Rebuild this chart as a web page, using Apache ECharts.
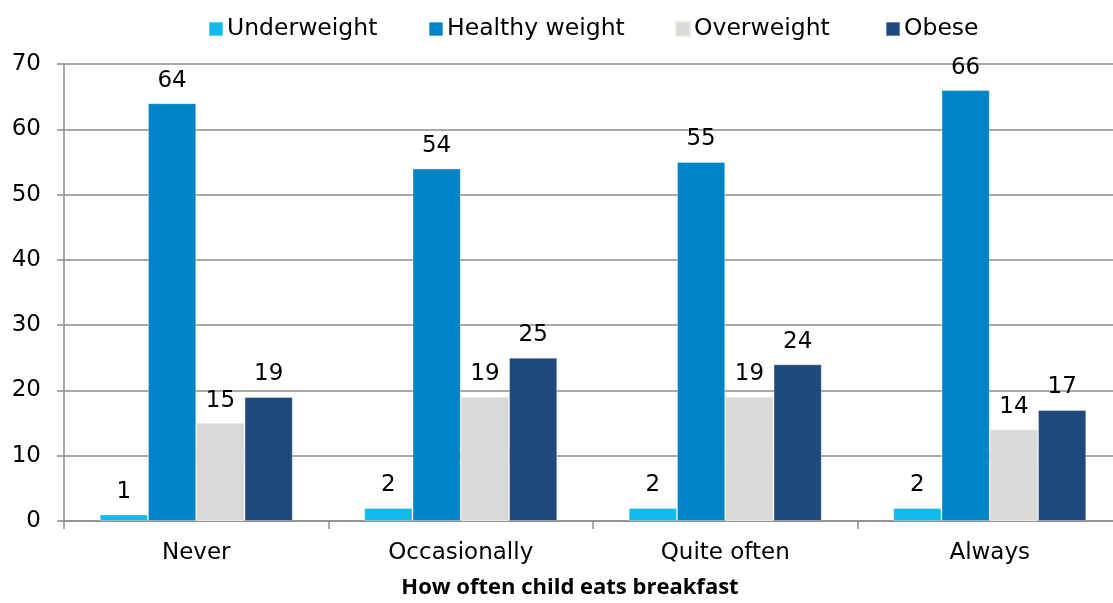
<!DOCTYPE html>
<html>
<head>
<meta charset="utf-8">
<script src="https://cdn.jsdelivr.net/npm/echarts@6/dist/echarts.min.js"></script>
<style>
  html, body { margin: 0; padding: 0; background: #ffffff; overflow: hidden; }
  /* the plot runs a few pixels past the right edge of the window */
  #chart { width: 1125px; height: 603px; }
</style>
</head>
<body>
<div id="chart"></div>
<script>
// Breakfast frequency vs. child weight category (%)
const categories = ['Never', 'Occasionally', 'Quite often', 'Always'];
const seriesNames = ['Underweight', 'Healthy weight', 'Overweight', 'Obese'];
const underweight = [1, 2, 2, 2];
const healthyWeight = [64, 54, 55, 66];
const overweight = [15, 19, 19, 14];
const obese = [19, 25, 24, 17];
const yTicks = [0, 10, 20, 30, 40, 50, 60, 70];
const xAxisTitle = 'How often child eats breakfast';

const seriesValues = [underweight, healthyWeight, overweight, obese];
const colors = ['#12b9ec', '#0083c7', '#d9d9d9', '#1f497d'];
const legendLeft = [208, 428, 675, 885];

const FONT = '"DejaVu Sans", "Liberation Sans", Arial, sans-serif';
const AXIS_GREY = '#8c8c8c';

const chart = echarts.init(document.getElementById('chart'), null, { renderer: 'canvas' });

const option = {
  animation: false,
  backgroundColor: '#ffffff',
  legend: seriesNames.map((name, i) => ({
    data: [name],
    left: legendLeft[i],
    top: 17,
    icon: 'rect',
    itemWidth: 14,
    itemHeight: 14,
    itemGap: 0,
    padding: 0,
    textStyle: { fontFamily: FONT, fontSize: 23.5, color: '#000000', padding: [0, 0, 0, -1] }
  })),
  grid: { left: 64, top: 64, right: 3, height: 457, containLabel: false },
  xAxis: {
    type: 'category',
    data: categories,
    axisLine: { show: true, lineStyle: { color: AXIS_GREY, width: 1.5 } },
    axisTick: { show: true, length: 8, interval: 0, alignWithLabel: false, lineStyle: { color: AXIS_GREY, width: 1.5 } },
    axisLabel: { fontFamily: FONT, fontSize: 23, color: '#000000', margin: 21 },
    splitLine: { show: false }
  },
  yAxis: {
    type: 'value',
    min: yTicks[0],
    max: yTicks[yTicks.length - 1],
    interval: yTicks[1] - yTicks[0],
    axisLine: { show: true, lineStyle: { color: AXIS_GREY, width: 1.5 } },
    axisTick: { show: true, length: 7, lineStyle: { color: AXIS_GREY, width: 1.5 } },
    axisLabel: { fontFamily: FONT, fontSize: 23, color: '#000000', margin: 23 },
    splitLine: { show: true, lineStyle: { color: AXIS_GREY, width: 1.5 } }
  },
  series: seriesNames.map((name, i) => ({
    name: name,
    type: 'bar',
    data: seriesValues[i],
    barGap: '0%',
    barCategoryGap: '27%',
    itemStyle: {
      color: colors[i],
      borderColor: i === 2 ? '#ebe8df' : 'rgba(255,255,255,0.35)',
      borderWidth: 1
    },
    label: {
      show: true,
      position: 'top',
      distance: 11,
      fontFamily: FONT,
      fontSize: 23,
      color: '#000000'
    }
  })),
  graphic: [{
    type: 'text',
    x: 570,
    y: 588,
    style: {
      text: xAxisTitle,
      fontFamily: '"Open Sans", sans-serif',
      fontWeight: 'bold',
      fontSize: 22,
      fill: '#000000',
      align: 'center',
      verticalAlign: 'middle'
    }
  }]
};

chart.setOption(option);
</script>
</body>
</html>
